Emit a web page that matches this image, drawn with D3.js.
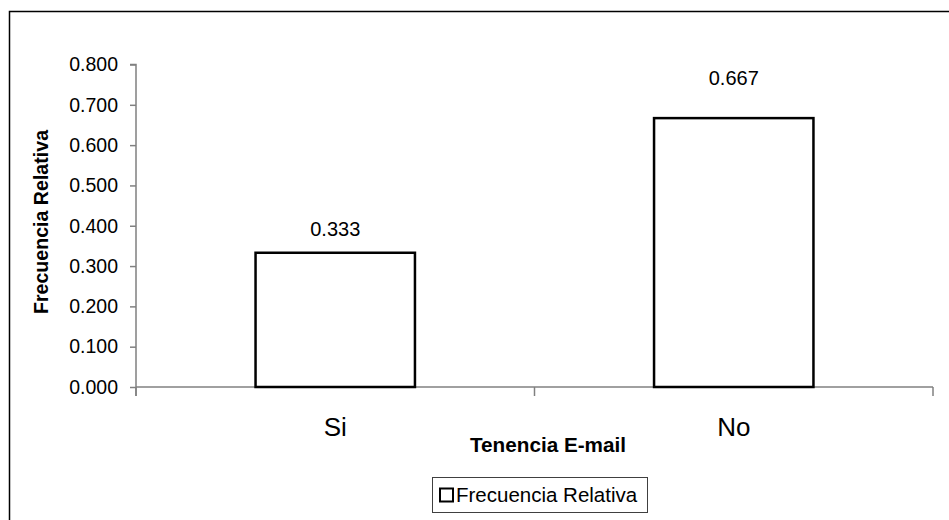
<!DOCTYPE html>
<html>
<head>
<meta charset="utf-8">
<script src="https://cdn.jsdelivr.net/npm/d3@7"></script>
<style>
  html, body { margin: 0; padding: 0; background: #fff; }
  svg { display: block; font-family: Arial, "Liberation Sans", sans-serif; }
</style>
</head>
<body>
<svg id="chart" width="949" height="520"></svg>
<script>
const categories = ["Si", "No"];
const values = [0.333, 0.667];
const yTicks = [0, 0.1, 0.2, 0.3, 0.4, 0.5, 0.6, 0.7, 0.8];
const seriesName = "Frecuencia Relativa";
const xTitle = "Tenencia E-mail";
const yTitle = "Frecuencia Relativa";

const svg = d3.select("#chart");
const plot = { left: 136, right: 933, top: 64.5, bottom: 387 };

// outer frame (extends past right/bottom edge like the reference)
svg.append("rect")
  .attr("x", 9.5).attr("y", 11.5)
  .attr("width", 960).attr("height", 540)
  .attr("fill", "#fff").attr("stroke", "#000").attr("stroke-width", 1.5);

const x = d3.scaleBand().domain(categories)
  .range([plot.left, plot.right]).paddingInner(0.6).paddingOuter(0.3);
const y = d3.scaleLinear().domain([0, 0.8]).range([plot.bottom, plot.top]);

// y axis
const yAxis = svg.append("g")
  .attr("transform", `translate(${plot.left},0)`)
  .call(d3.axisLeft(y).tickValues(yTicks).tickFormat(d3.format(".3f")).tickSize(6).tickPadding(12));
yAxis.select(".domain").attr("stroke", "#808080").attr("stroke-width", 1.5)
  .attr("d", `M-6,${y(0.8)}H0V${plot.bottom + 9}`);
yAxis.selectAll(".tick line").attr("stroke", "#808080").attr("stroke-width", 1.5);
yAxis.selectAll(".tick text").attr("font-size", 19.5).attr("fill", "#000")
  .attr("font-family", "Arial, 'Liberation Sans', sans-serif");

// x axis line and boundary ticks
const step = x.step();
const boundaries = [plot.left, plot.left + step, plot.right];
svg.append("line")
  .attr("x1", plot.left).attr("x2", plot.right)
  .attr("y1", y(0)).attr("y2", y(0))
  .attr("stroke", "#808080").attr("stroke-width", 1.5);
svg.selectAll(".xtick").data(boundaries).enter().append("line")
  .attr("class", "xtick")
  .attr("x1", d => d).attr("x2", d => d)
  .attr("y1", y(0)).attr("y2", y(0) + 9)
  .attr("stroke", "#808080").attr("stroke-width", 1.5);

// bars
svg.selectAll(".bar").data(values).enter().append("rect")
  .attr("class", "bar")
  .attr("x", (d, i) => x(categories[i]))
  .attr("y", d => y(d))
  .attr("width", x.bandwidth())
  .attr("height", d => y(0) - y(d))
  .attr("fill", "#fff").attr("stroke", "#000").attr("stroke-width", 2.5);

// value labels
svg.selectAll(".val").data(values).enter().append("text")
  .attr("class", "val")
  .attr("x", (d, i) => x(categories[i]) + x.bandwidth() / 2)
  .attr("y", d => y(d * 1.125))
  .attr("text-anchor", "middle").attr("font-size", 20)
  .text(d => d.toFixed(3));

// category labels
svg.selectAll(".cat").data(categories).enter().append("text")
  .attr("class", "cat")
  .attr("x", d => x(d) + x.bandwidth() / 2)
  .attr("y", 436)
  .attr("text-anchor", "middle").attr("font-size", 26)
  .text(d => d);

// axis titles
svg.append("text")
  .attr("x", 548).attr("y", 452)
  .attr("text-anchor", "middle").attr("font-size", 20.7).attr("font-weight", "bold")
  .text(xTitle);
svg.append("text")
  .attr("transform", "translate(48,222) rotate(-90)")
  .attr("text-anchor", "middle").attr("font-size", 19.6).attr("font-weight", "bold")
  .text(yTitle);

// legend
const lg = svg.append("g");
lg.append("rect")
  .attr("x", 432.5).attr("y", 477.5).attr("width", 215).attr("height", 35)
  .attr("fill", "#fff").attr("stroke", "#404040").attr("stroke-width", 1);
lg.append("rect")
  .attr("x", 440).attr("y", 488.5).attr("width", 13).attr("height", 13)
  .attr("fill", "#fff").attr("stroke", "#000").attr("stroke-width", 2);
lg.append("text")
  .attr("x", 456).attr("y", 502)
  .attr("font-size", 20.5)
  .text(seriesName);
</script>
</body>
</html>
